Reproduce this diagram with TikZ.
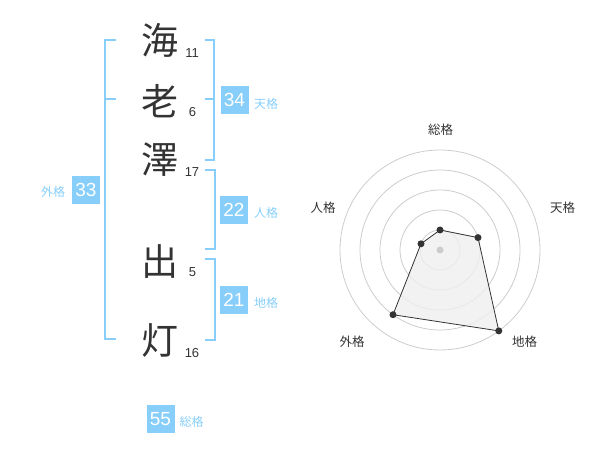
\documentclass[tikz,border=0pt]{standalone}
\usepackage{fontspec}
\setmainfont{Liberation Sans}
\newfontfamily\cjk{Noto Sans CJK JP}
\definecolor{sky}{HTML}{87CEFA}
\definecolor{ink}{HTML}{333333}
\definecolor{ring}{HTML}{CCCCCC}
\definecolor{area}{HTML}{EFEFEF}
\begin{document}
\begin{tikzpicture}[x=1pt,y=-1pt,
  kanji/.style={font=\cjk\fontsize{37}{37}\selectfont, text=ink, inner sep=0pt},
  strokes/.style={font=\fontsize{13}{13}\selectfont, text=ink, inner sep=0pt, anchor=base},
  scorebox/.style={fill=sky, text=white, minimum width=28pt, minimum height=28pt, inner sep=0pt, font=\fontsize{19}{19}\selectfont},
  scorelabel/.style={text=sky, font=\cjk\fontsize{12}{12}\selectfont, inner sep=0pt},
  bracket/.style={draw=sky, line width=2pt},
  axislabel/.style={text=ink, font=\cjk\fontsize{12.5}{12.5}\selectfont, inner sep=0pt},
  ringline/.style={draw=ring, line width=0.8pt},
  vertex/.style={circle, fill=ink, inner sep=0pt, minimum size=7pt}]
\useasboundingbox (0,0) rectangle (600,470);
% characters
\node[kanji] (c1) at (160,40) {海};
\node[kanji] (c2) at (160,101) {老};
\node[kanji] (c3) at (160,160) {澤};
\node[kanji] (c4) at (160,262) {出};
\node[kanji] (c5) at (160,341) {灯};
% stroke counts
\node[strokes] (n1) at (192,58) {11};
\node[strokes] (n2) at (192.5,117) {6};
\node[strokes] (n3) at (192,177) {17};
\node[strokes] (n4) at (192.5,277) {5};
\node[strokes] (n5) at (192,358) {16};
% brackets
\draw[bracket] (116,40) -- (105,40) -- (105,339) -- (116,339);
\draw[bracket] (105,99) -- (116,99);
\draw[bracket] (205,40) -- (214,40) -- (214,160) -- (205,160);
\draw[bracket] (205,99) -- (214,99);
\draw[bracket] (205,170) -- (215,170) -- (215,249) -- (205,249);
\draw[bracket] (205,259) -- (215,259) -- (215,340) -- (205,340);
% scores
\node[scorebox] (ten) at (234.5,100) {34};
\node[scorelabel] (tenl) at (266,104) {天格};
\node[scorebox] (jin) at (234,210) {22};
\node[scorelabel] (jinl) at (266,213) {人格};
\node[scorebox] (chi) at (234,300) {21};
\node[scorelabel] (chil) at (266,303) {地格};
\node[scorebox] (gai) at (86,190) {33};
\node[scorelabel] (gail) at (53,192) {外格};
\node[scorebox] (sou) at (160.5,419) {55};
\node[scorelabel] (soul) at (191.5,422) {総格};
% radar
\coordinate (o) at (440,250);
\foreach \r in {20,40,60,80,100} \draw[ringline] (o) circle (\r);
\coordinate (ps) at (440,230);
\coordinate (pt) at (478.0,237.6);
\coordinate (pc) at (498.8,330.9);
\coordinate (pg) at (393.0,314.7);
\coordinate (pj) at (421.0,243.8);
\fill[area, opacity=0.8] (ps) -- (pt) -- (pc) -- (pg) -- (pj) -- cycle;
\fill[ring] (o) circle (3.5);
\draw[ink, line width=0.8pt] (ps) -- (pt) -- (pc) -- (pg) -- (pj) -- cycle;
\foreach \p in {ps,pt,pc,pg,pj} \node[vertex] at (\p) {};
\node[axislabel] (as) at (440.5,130) {総格};
\node[axislabel] (at) at (562.5,208) {天格};
\node[axislabel] (ac) at (524.5,342) {地格};
\node[axislabel] (ag) at (352,342) {外格};
\node[axislabel] (aj) at (323,208) {人格};
\end{tikzpicture}
\end{document}
